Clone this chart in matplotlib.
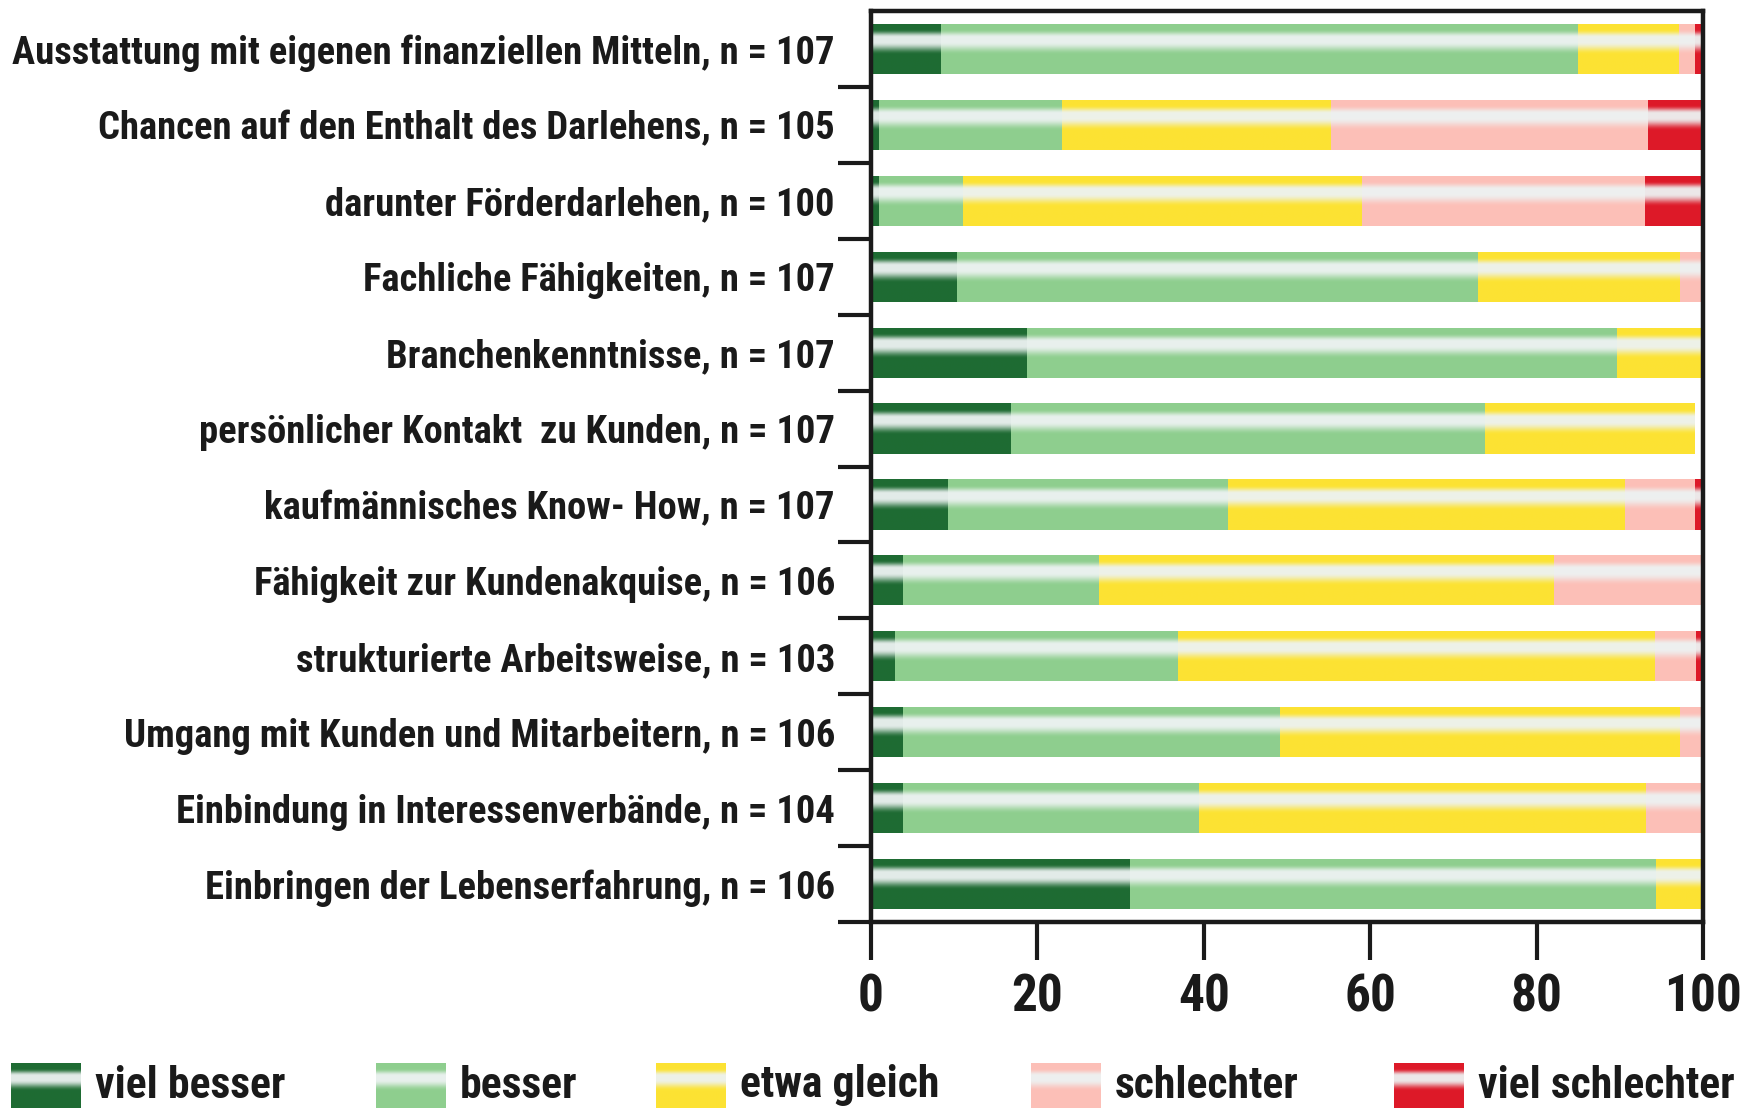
import numpy as np
import matplotlib
matplotlib.use("Agg")
import matplotlib.pyplot as plt

plt.rcParams['font.family'] = ['Liberation Sans Narrow', 'Roboto Condensed', 'Archivo Narrow',
                               'Open Sans Condensed', 'DejaVu Sans']
plt.rcParams['font.weight'] = 'bold'

categories = [
    "Ausstattung mit eigenen finanziellen Mitteln, n = 107",
    "Chancen auf den Enthalt des Darlehens, n = 105",
    "darunter Förderdarlehen, n = 100",
    "Fachliche Fähigkeiten, n = 107",
    "Branchenkenntnisse, n = 107",
    "persönlicher Kontakt  zu Kunden, n = 107",
    "kaufmännisches Know- How, n = 107",
    "Fähigkeit zur Kundenakquise, n = 106",
    "strukturierte Arbeitsweise, n = 103",
    "Umgang mit Kunden und Mitarbeitern, n = 106",
    "Einbindung in Interessenverbände, n = 104",
    "Einbringen der Lebenserfahrung, n = 106",
]
viel_besser     = [8.4, 1.0, 1.0, 10.3, 18.7, 16.8, 9.3, 3.8, 2.9, 3.8, 3.8, 31.1]
besser          = [76.6, 21.9, 10.0, 62.6, 71.0, 57.0, 33.6, 23.6, 34.0, 45.3, 35.6, 63.2]
etwa_gleich     = [12.1, 32.4, 48.0, 24.3, 10.3, 25.2, 47.7, 54.7, 57.3, 48.1, 53.8, 5.7]
schlechter      = [1.9, 38.1, 34.0, 2.8, 0.0, 0.0, 8.4, 17.9, 4.9, 2.8, 6.7, 0.0]
viel_schlechter = [0.9, 6.7, 7.0, 0.0, 0.0, 0.0, 0.9, 0.0, 1.0, 0.0, 0.0, 0.0]
series_names = ["viel besser", "besser", "etwa gleich", "schlechter", "viel schlechter"]
x_ticks = [0, 20, 40, 60, 80, 100]

series = [viel_besser, besser, etwa_gleich, schlechter, viel_schlechter]
colors = [(0.12, 0.42, 0.20), (0.56, 0.81, 0.56), (0.99, 0.89, 0.20),
          (0.99, 0.75, 0.72), (0.87, 0.10, 0.16)]
white = np.array([0.93, 0.95, 0.95])


def smooth(a):
    a = np.clip(a, 0, 1)
    return 0.5 - 0.5 * np.cos(np.pi * a)


def gradient(c, n=160):
    t = np.linspace(0, 1, n)
    up = smooth((t - 0.12) / (0.28 - 0.12))
    down = 1 - smooth((t - 0.37) / (0.62 - 0.37))
    w = 0.95 * np.minimum(up, down)
    c = np.array(c)
    rgb = c[None, :] * (1 - w[:, None]) + white[None, :] * w[:, None]
    return rgb[:, None, :]


W, H = 1758, 1111
fig = plt.figure(figsize=(W / 100, H / 100), dpi=100)
ax = fig.add_axes([871 / W, (H - 922) / H, (1703 - 871) / W, (922 - 11) / H])

y = np.arange(len(categories))
left = np.zeros(len(categories))
bar_h = 0.66
for k, vals in enumerate(series):
    bars = ax.barh(y, vals, left=left, height=bar_h, color=colors[k], linewidth=0, zorder=1)
    g = gradient(colors[k])
    for rect in bars:
        x0, y0 = rect.get_x(), rect.get_y()
        w, h = rect.get_width(), rect.get_height()
        if w <= 0:
            continue
        im = ax.imshow(g, extent=(x0, x0 + w, y0 + h, y0), aspect='auto',
                       interpolation='bilinear', zorder=2)
        im.set_clip_path(rect)
    left = left + np.array(vals)

ax.set_xlim(0, 100)
ax.set_ylim(len(categories) - 0.5, -0.5)
ax.set_aspect('auto')

spine_c = '#1a1a1a'
for sp in ax.spines.values():
    sp.set_linewidth(3.2)
    sp.set_color(spine_c)

ax.set_xticks(x_ticks)
ax.set_xticklabels([str(v) for v in x_ticks])
ax.tick_params(axis='x', direction='out', length=27, width=3, color=spine_c,
               labelsize=37, pad=9, labelcolor=spine_c)
ax.set_yticks(y)
ax.set_yticklabels(categories)
ax.tick_params(axis='y', which='major', length=0, pad=26, labelsize=27.8, labelcolor=spine_c)
ax.set_yticks(np.arange(0.5, len(categories), 1.0), minor=True)
ax.tick_params(axis='y', which='minor', direction='out', length=24, width=3, color=spine_c)

# legend
lax = fig.add_axes([0, 0, 1, 1], facecolor='none')
lax.axis('off')
patch_x = [11, 376, 656, 1031, 1394]
pw, ptop, pbot = 70, 1063, 1108
for k, name in enumerate(series_names):
    x0 = patch_x[k]
    lax.imshow(gradient(colors[k]), extent=(x0, x0 + pw, pbot, ptop), aspect='auto',
               interpolation='bilinear')
    lax.text(x0 + pw + 14, (ptop + pbot) / 2, name, fontsize=31.5, color=spine_c,
             ha='left', va='center')
lax.set_xlim(0, W)
lax.set_ylim(H, 0)

fig.savefig("out.png", dpi=100, facecolor='white')
